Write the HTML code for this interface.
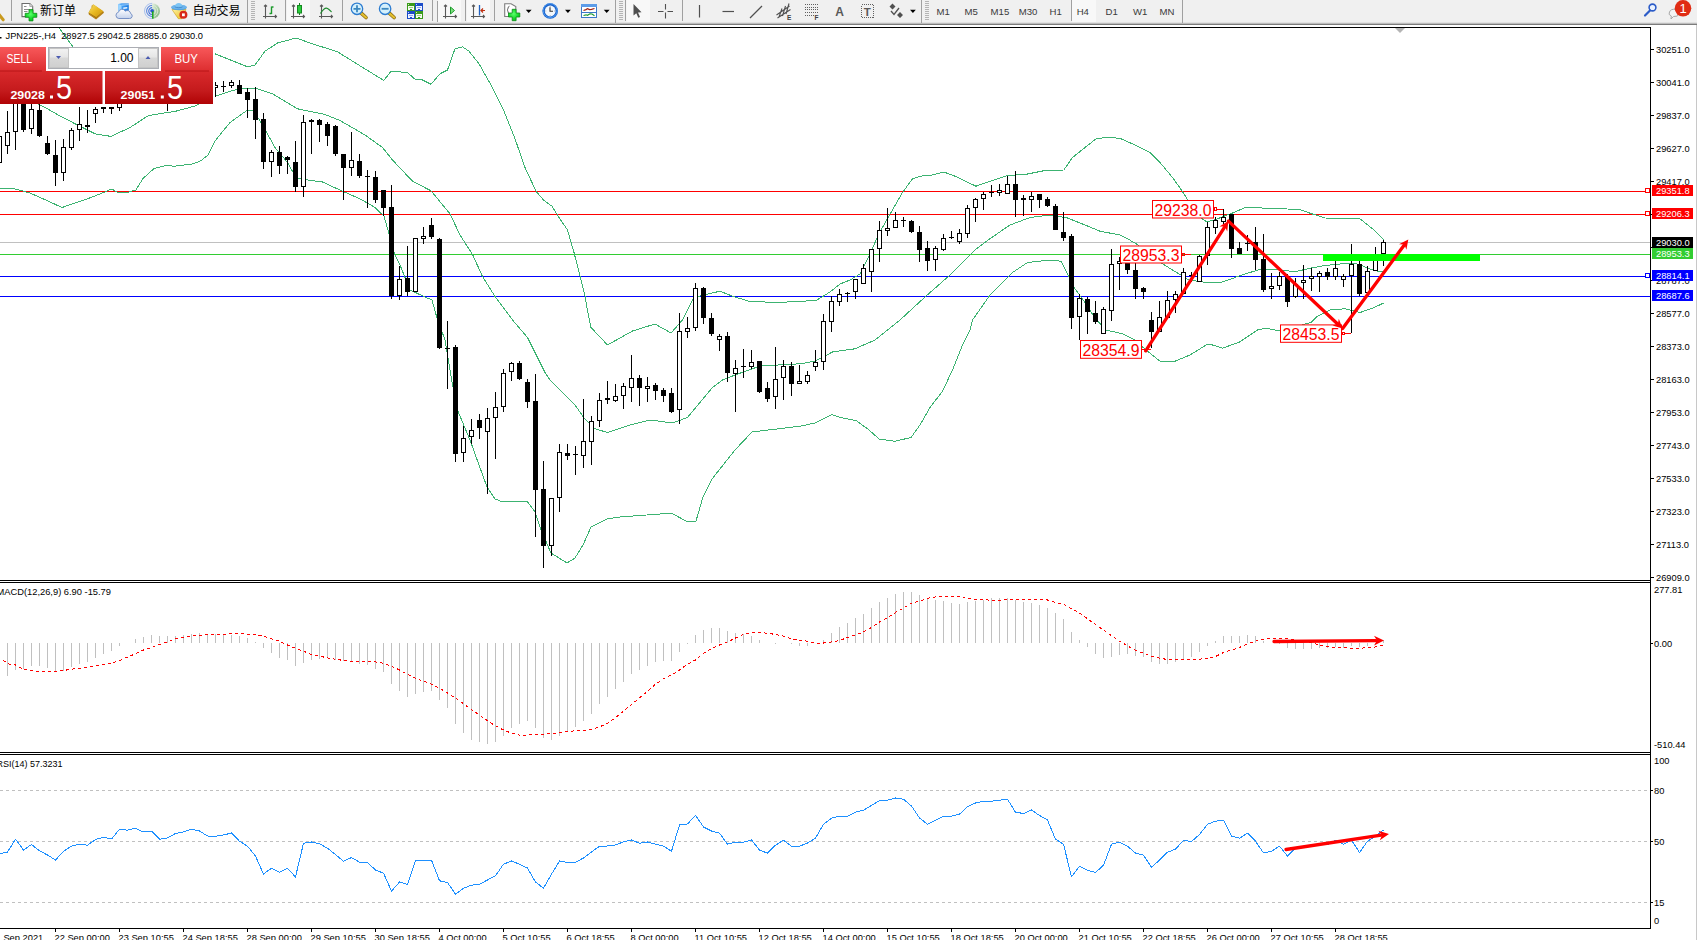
<!DOCTYPE html><html><head><meta charset="utf-8"><title>JPN225 H4</title><style>
html,body{margin:0;padding:0;background:#fff;}
body{width:1697px;height:940px;overflow:hidden;position:relative;font-family:"Liberation Sans", "Noto Sans CJK SC", sans-serif;}
svg{position:absolute;left:0;top:0;} text{font-family:"Liberation Sans", "Noto Sans CJK SC", sans-serif;}
</style></head><body>
<svg width="1697" height="940" viewBox="0 0 1697 940">
<defs>
<clipPath id="cm"><rect x="0" y="28" width="1650" height="552"/></clipPath>
<clipPath id="cd"><rect x="0" y="583" width="1650" height="169"/></clipPath>
<clipPath id="cr"><rect x="0" y="755" width="1650" height="173"/></clipPath>
<linearGradient id="gsell" x1="0" y1="0" x2="0" y2="1"><stop offset="0" stop-color="#f8585a"/><stop offset="1" stop-color="#dc2c2e"/></linearGradient>
<linearGradient id="gbig" x1="0" y1="0" x2="0" y2="1"><stop offset="0" stop-color="#d92a2c"/><stop offset="0.6" stop-color="#c41a1c"/><stop offset="1" stop-color="#b00305"/></linearGradient>
<linearGradient id="gbtn" x1="0" y1="0" x2="0" y2="1"><stop offset="0" stop-color="#f2f2f2"/><stop offset="0.45" stop-color="#e6e6e6"/><stop offset="0.5" stop-color="#d8d8d8"/><stop offset="1" stop-color="#cfcfcf"/></linearGradient>
</defs>
<rect x="0" y="0" width="1697" height="940" fill="#fff"/>
<g clip-path="url(#cm)">
<rect x="0" y="242" width="1650" height="1" fill="#c0c0c0" shape-rendering="crispEdges"/>
<rect x="0" y="191" width="1650" height="1" fill="#ff0000" shape-rendering="crispEdges"/>
<rect x="0" y="214" width="1650" height="1" fill="#ff0000" shape-rendering="crispEdges"/>
<rect x="0" y="254" width="1650" height="1" fill="#32cd32" shape-rendering="crispEdges"/>
<rect x="0" y="276" width="1650" height="1" fill="#0000ff" shape-rendering="crispEdges"/>
<rect x="0" y="296" width="1650" height="1" fill="#0000ff" shape-rendering="crispEdges"/>
<polyline points="49.5,15.0 58.8,27.5 71.0,44.2 80.0,56.5 120.0,60.0 170.0,56.0 213.0,53.0 215.0,53.8 247.5,66.8 255.0,65.0 265.0,51.2 277.5,43.0 296.0,38.0 312.5,43.8 337.5,51.8 360.0,65.8 383.8,80.5 391.0,71.2 407.5,72.5 415.0,79.2 422.5,80.0 431.0,84.2 440.0,73.8 447.5,70.0 455.0,48.8 462.5,46.8 469.0,51.2 479.0,63.8 491.0,85.0 504.0,111.2 515.0,138.8 525.0,167.5 536.0,191.2 544.0,200.5 552.0,206.2 559.0,217.5 567.5,230.0 574.0,252.5 580.0,276.0 585.0,296.0 587.0,308.0 591.0,327.5 607.5,345.0 632.5,331.0 655.0,324.0 671.0,333.0 682.5,320.0 693.8,297.5 706.0,294.5 720.0,291.2 732.5,296.2 748.8,301.2 775.0,302.5 800.0,301.5 817.0,300.0 830.0,292.0 840.0,284.0 850.0,280.0 860.0,274.0 868.0,258.0 877.0,238.0 881.0,230.0 892.5,210.0 902.5,192.5 912.5,178.8 920.0,176.2 932.5,175.0 943.8,172.0 955.0,176.2 976.0,186.2 990.0,181.2 1007.5,175.5 1025.0,174.5 1045.0,170.5 1063.8,170.0 1072.5,157.5 1085.0,147.5 1096.0,138.8 1110.0,137.0 1121.0,138.8 1135.0,145.0 1150.0,152.5 1160.0,162.5 1172.5,177.5 1181.4,190.0 1187.6,199.6 1195.0,210.0 1202.0,218.7 1206.3,221.6 1213.0,220.6 1227.4,214.9 1234.0,212.5 1245.6,207.2 1253.0,207.7 1262.0,208.0 1300.0,209.5 1310.0,213.2 1325.0,218.0 1360.0,218.8 1372.5,228.8 1383.8,239.5" fill="none" stroke="#3cb371" stroke-width="1" stroke-linejoin="round" shape-rendering="crispEdges"/>
<polyline points="0.0,85.0 30.0,100.0 42.4,106.0 60.0,116.0 77.5,125.0 95.0,133.8 111.0,136.4 130.0,127.5 148.5,115.5 175.4,111.3 195.0,106.0 215.0,96.2 232.5,90.5 245.0,88.0 257.5,88.8 272.5,93.8 297.5,108.8 325.0,114.5 340.0,120.5 365.0,135.0 382.5,147.5 392.5,160.0 412.5,181.2 431.0,190.8 450.0,213.8 460.0,235.0 472.5,254.5 482.5,276.5 495.0,296.5 512.5,320.0 527.5,337.5 545.0,372.5 550.0,380.0 575.0,405.0 583.8,417.5 595.0,428.8 607.5,432.5 630.0,425.0 650.0,420.0 672.5,423.0 687.5,417.5 700.0,402.5 712.5,387.5 722.5,380.0 735.0,375.0 760.0,366.0 800.0,363.8 815.0,361.2 832.5,352.0 855.0,348.8 875.0,340.0 887.5,330.0 900.0,320.0 925.0,297.0 950.0,275.0 975.0,250.0 988.8,239.5 1010.0,225.0 1030.0,217.5 1050.0,215.0 1067.5,218.0 1085.0,225.0 1100.0,231.2 1120.0,235.0 1128.8,239.5 1137.4,244.6 1150.0,254.0 1163.2,264.2 1179.5,274.3 1189.0,280.0 1200.0,281.5 1210.0,283.0 1220.0,282.5 1228.4,280.0 1243.7,274.3 1260.0,269.5 1272.0,269.0 1285.0,270.5 1295.0,271.8 1310.0,268.2 1325.0,265.5 1350.0,263.0 1358.5,264.3 1366.8,267.7 1375.1,270.9 1383.4,271.4" fill="none" stroke="#3cb371" stroke-width="1" stroke-linejoin="round" shape-rendering="crispEdges"/>
<polyline points="0.0,188.4 14.0,188.7 30.0,193.0 45.0,199.7 62.0,207.5 85.0,199.7 100.0,194.0 111.7,189.0 117.0,192.0 128.7,192.0 135.8,190.0 143.0,178.5 154.0,168.5 167.0,165.3 174.0,166.3 192.4,164.0 200.8,160.8 208.0,155.0 215.0,141.0 223.5,130.4 230.0,122.5 247.5,110.0 254.0,111.2 262.5,125.0 275.0,147.5 287.5,162.5 296.0,177.5 307.5,180.0 322.5,182.0 342.5,191.2 360.0,198.8 375.0,207.5 384.0,216.2 390.0,237.5 394.0,252.5 400.0,265.0 410.0,290.0 425.0,297.0 432.0,300.0 437.0,318.0 445.0,340.0 452.0,382.0 457.5,410.0 470.0,440.0 487.0,487.0 495.0,499.0 503.0,502.0 527.0,501.0 535.0,512.0 541.0,530.0 551.0,553.0 567.0,563.0 575.0,558.0 583.0,545.0 591.0,527.0 607.0,519.0 620.0,517.0 660.0,514.0 671.0,513.0 688.0,522.0 696.0,521.0 703.0,497.0 712.0,479.0 735.0,450.0 752.0,432.0 800.0,426.2 815.0,423.0 832.0,414.5 840.0,417.5 856.0,420.5 867.5,428.8 879.5,439.2 895.0,441.2 911.0,437.5 920.0,425.0 930.0,407.5 942.5,391.2 952.5,370.0 962.5,345.0 970.0,330.0 972.5,320.0 990.0,295.0 1012.5,272.5 1027.5,262.5 1050.0,260.0 1061.0,261.2 1068.8,276.2 1075.0,288.8 1085.0,302.5 1095.0,318.0 1106.0,330.0 1122.5,333.8 1135.0,340.0 1146.0,350.0 1160.0,361.2 1175.0,361.2 1190.0,355.0 1207.5,344.2 1210.0,344.2 1222.5,348.2 1240.0,341.8 1257.5,330.0 1265.0,328.2 1280.0,330.8 1311.0,322.5 1317.5,316.2 1330.0,310.0 1345.0,308.8 1360.0,312.5 1372.5,308.2 1383.8,303.0" fill="none" stroke="#3cb371" stroke-width="1" stroke-linejoin="round" shape-rendering="crispEdges"/>
<g shape-rendering="crispEdges">
<rect x="-1" y="130" width="1" height="35" fill="#000"/>
<rect x="-3" y="136" width="5" height="27" fill="#000"/>
<rect x="-2" y="137" width="3" height="25" fill="#fff"/>
<rect x="7" y="111" width="1" height="43" fill="#000"/>
<rect x="5" y="132" width="5" height="14" fill="#000"/>
<rect x="6" y="133" width="3" height="12" fill="#fff"/>
<rect x="15" y="98" width="1" height="52" fill="#000"/>
<rect x="13" y="100" width="5" height="32" fill="#000"/>
<rect x="14" y="101" width="3" height="30" fill="#fff"/>
<rect x="23" y="98" width="1" height="34" fill="#000"/>
<rect x="21" y="100" width="5" height="30" fill="#000"/>
<rect x="31" y="100" width="1" height="34" fill="#000"/>
<rect x="29" y="109" width="5" height="20" fill="#000"/>
<rect x="30" y="110" width="3" height="18" fill="#fff"/>
<rect x="39" y="100" width="1" height="37" fill="#000"/>
<rect x="37" y="110" width="5" height="26" fill="#000"/>
<rect x="47" y="136" width="1" height="19" fill="#000"/>
<rect x="45" y="143" width="5" height="11" fill="#000"/>
<rect x="55" y="140" width="1" height="46" fill="#000"/>
<rect x="53" y="155" width="5" height="18" fill="#000"/>
<rect x="63" y="139" width="1" height="42" fill="#000"/>
<rect x="61" y="147" width="5" height="26" fill="#000"/>
<rect x="62" y="148" width="3" height="24" fill="#fff"/>
<rect x="71" y="128" width="1" height="22" fill="#000"/>
<rect x="69" y="130" width="5" height="18" fill="#000"/>
<rect x="70" y="131" width="3" height="16" fill="#fff"/>
<rect x="79" y="107" width="1" height="34" fill="#000"/>
<rect x="77" y="124" width="5" height="6" fill="#000"/>
<rect x="78" y="125" width="3" height="4" fill="#fff"/>
<rect x="87" y="110" width="1" height="23" fill="#000"/>
<rect x="85" y="125" width="5" height="2" fill="#000"/>
<rect x="95" y="107" width="1" height="16" fill="#000"/>
<rect x="93" y="109" width="5" height="5" fill="#000"/>
<rect x="94" y="110" width="3" height="3" fill="#fff"/>
<rect x="103" y="107" width="1" height="6" fill="#000"/>
<rect x="101" y="107" width="5" height="2" fill="#000"/>
<rect x="111" y="107" width="1" height="7" fill="#000"/>
<rect x="109" y="107" width="5" height="2" fill="#000"/>
<rect x="119" y="98" width="1" height="13" fill="#000"/>
<rect x="117" y="103" width="5" height="5" fill="#000"/>
<rect x="118" y="104" width="3" height="3" fill="#fff"/>
<rect x="167" y="90" width="1" height="21" fill="#000"/>
<rect x="165" y="95" width="5" height="5" fill="#000"/>
<rect x="166" y="96" width="3" height="3" fill="#fff"/>
<rect x="215" y="82" width="1" height="15" fill="#000"/>
<rect x="213" y="85" width="5" height="3" fill="#000"/>
<rect x="214" y="86" width="3" height="1" fill="#fff"/>
<rect x="223" y="81" width="1" height="11" fill="#000"/>
<rect x="221" y="86" width="5" height="1" fill="#000"/>
<rect x="231" y="80" width="1" height="8" fill="#000"/>
<rect x="229" y="82" width="5" height="4" fill="#000"/>
<rect x="230" y="83" width="3" height="2" fill="#fff"/>
<rect x="239" y="80" width="1" height="14" fill="#000"/>
<rect x="237" y="85" width="5" height="9" fill="#000"/>
<rect x="247" y="88" width="1" height="30" fill="#000"/>
<rect x="245" y="92" width="5" height="8" fill="#000"/>
<rect x="255" y="87" width="1" height="52" fill="#000"/>
<rect x="253" y="99" width="5" height="21" fill="#000"/>
<rect x="263" y="113" width="1" height="56" fill="#000"/>
<rect x="261" y="119" width="5" height="43" fill="#000"/>
<rect x="271" y="150" width="1" height="27" fill="#000"/>
<rect x="269" y="152" width="5" height="10" fill="#000"/>
<rect x="270" y="153" width="3" height="8" fill="#fff"/>
<rect x="279" y="146" width="1" height="28" fill="#000"/>
<rect x="277" y="152" width="5" height="14" fill="#000"/>
<rect x="287" y="156" width="1" height="18" fill="#000"/>
<rect x="285" y="157" width="5" height="3" fill="#000"/>
<rect x="295" y="141" width="1" height="51" fill="#000"/>
<rect x="293" y="162" width="5" height="25" fill="#000"/>
<rect x="303" y="115" width="1" height="82" fill="#000"/>
<rect x="301" y="122" width="5" height="65" fill="#000"/>
<rect x="302" y="123" width="3" height="63" fill="#fff"/>
<rect x="311" y="119" width="1" height="35" fill="#000"/>
<rect x="309" y="120" width="5" height="2" fill="#000"/>
<rect x="319" y="119" width="1" height="23" fill="#000"/>
<rect x="317" y="120" width="5" height="5" fill="#000"/>
<rect x="327" y="122" width="1" height="24" fill="#000"/>
<rect x="325" y="124" width="5" height="12" fill="#000"/>
<rect x="335" y="125" width="1" height="31" fill="#000"/>
<rect x="333" y="126" width="5" height="28" fill="#000"/>
<rect x="343" y="154" width="1" height="46" fill="#000"/>
<rect x="341" y="154" width="5" height="14" fill="#000"/>
<rect x="351" y="132" width="1" height="44" fill="#000"/>
<rect x="349" y="160" width="5" height="8" fill="#000"/>
<rect x="350" y="161" width="3" height="6" fill="#fff"/>
<rect x="359" y="154" width="1" height="24" fill="#000"/>
<rect x="357" y="161" width="5" height="15" fill="#000"/>
<rect x="367" y="170" width="1" height="38" fill="#000"/>
<rect x="365" y="176" width="5" height="1" fill="#000"/>
<rect x="375" y="171" width="1" height="32" fill="#000"/>
<rect x="373" y="177" width="5" height="23" fill="#000"/>
<rect x="383" y="190" width="1" height="26" fill="#000"/>
<rect x="381" y="190" width="5" height="18" fill="#000"/>
<rect x="391" y="185" width="1" height="114" fill="#000"/>
<rect x="389" y="207" width="5" height="89" fill="#000"/>
<rect x="399" y="266" width="1" height="34" fill="#000"/>
<rect x="397" y="279" width="5" height="17" fill="#000"/>
<rect x="398" y="280" width="3" height="15" fill="#fff"/>
<rect x="407" y="246" width="1" height="50" fill="#000"/>
<rect x="405" y="278" width="5" height="14" fill="#000"/>
<rect x="415" y="238" width="1" height="54" fill="#000"/>
<rect x="413" y="238" width="5" height="54" fill="#000"/>
<rect x="414" y="239" width="3" height="52" fill="#fff"/>
<rect x="423" y="227" width="1" height="17" fill="#000"/>
<rect x="421" y="236" width="5" height="3" fill="#000"/>
<rect x="422" y="237" width="3" height="1" fill="#fff"/>
<rect x="431" y="218" width="1" height="21" fill="#000"/>
<rect x="429" y="225" width="5" height="12" fill="#000"/>
<rect x="439" y="238" width="1" height="111" fill="#000"/>
<rect x="437" y="239" width="5" height="109" fill="#000"/>
<rect x="447" y="321" width="1" height="68" fill="#000"/>
<rect x="445" y="348" width="5" height="1" fill="#000"/>
<rect x="455" y="345" width="1" height="117" fill="#000"/>
<rect x="453" y="347" width="5" height="107" fill="#000"/>
<rect x="463" y="426" width="1" height="36" fill="#000"/>
<rect x="461" y="438" width="5" height="15" fill="#000"/>
<rect x="462" y="439" width="3" height="13" fill="#fff"/>
<rect x="471" y="419" width="1" height="25" fill="#000"/>
<rect x="469" y="430" width="5" height="7" fill="#000"/>
<rect x="470" y="431" width="3" height="5" fill="#fff"/>
<rect x="479" y="414" width="1" height="25" fill="#000"/>
<rect x="477" y="420" width="5" height="8" fill="#000"/>
<rect x="487" y="408" width="1" height="86" fill="#000"/>
<rect x="485" y="418" width="5" height="14" fill="#000"/>
<rect x="486" y="419" width="3" height="12" fill="#fff"/>
<rect x="495" y="392" width="1" height="67" fill="#000"/>
<rect x="493" y="407" width="5" height="11" fill="#000"/>
<rect x="494" y="408" width="3" height="9" fill="#fff"/>
<rect x="503" y="369" width="1" height="43" fill="#000"/>
<rect x="501" y="373" width="5" height="34" fill="#000"/>
<rect x="502" y="374" width="3" height="32" fill="#fff"/>
<rect x="511" y="362" width="1" height="19" fill="#000"/>
<rect x="509" y="363" width="5" height="9" fill="#000"/>
<rect x="510" y="364" width="3" height="7" fill="#fff"/>
<rect x="519" y="361" width="1" height="19" fill="#000"/>
<rect x="517" y="363" width="5" height="16" fill="#000"/>
<rect x="527" y="379" width="1" height="29" fill="#000"/>
<rect x="525" y="382" width="5" height="20" fill="#000"/>
<rect x="535" y="374" width="1" height="163" fill="#000"/>
<rect x="533" y="401" width="5" height="89" fill="#000"/>
<rect x="543" y="461" width="1" height="107" fill="#000"/>
<rect x="541" y="489" width="5" height="57" fill="#000"/>
<rect x="551" y="498" width="1" height="58" fill="#000"/>
<rect x="549" y="498" width="5" height="48" fill="#000"/>
<rect x="550" y="499" width="3" height="46" fill="#fff"/>
<rect x="559" y="444" width="1" height="68" fill="#000"/>
<rect x="557" y="452" width="5" height="46" fill="#000"/>
<rect x="558" y="453" width="3" height="44" fill="#fff"/>
<rect x="567" y="444" width="1" height="16" fill="#000"/>
<rect x="565" y="453" width="5" height="3" fill="#000"/>
<rect x="575" y="446" width="1" height="29" fill="#000"/>
<rect x="573" y="454" width="5" height="1" fill="#000"/>
<rect x="583" y="399" width="1" height="69" fill="#000"/>
<rect x="581" y="441" width="5" height="15" fill="#000"/>
<rect x="582" y="442" width="3" height="13" fill="#fff"/>
<rect x="591" y="416" width="1" height="49" fill="#000"/>
<rect x="589" y="421" width="5" height="21" fill="#000"/>
<rect x="590" y="422" width="3" height="19" fill="#fff"/>
<rect x="599" y="393" width="1" height="34" fill="#000"/>
<rect x="597" y="400" width="5" height="21" fill="#000"/>
<rect x="598" y="401" width="3" height="19" fill="#fff"/>
<rect x="607" y="381" width="1" height="23" fill="#000"/>
<rect x="605" y="398" width="5" height="2" fill="#000"/>
<rect x="615" y="384" width="1" height="18" fill="#000"/>
<rect x="613" y="396" width="5" height="5" fill="#000"/>
<rect x="614" y="397" width="3" height="3" fill="#fff"/>
<rect x="623" y="383" width="1" height="26" fill="#000"/>
<rect x="621" y="386" width="5" height="10" fill="#000"/>
<rect x="622" y="387" width="3" height="8" fill="#fff"/>
<rect x="631" y="355" width="1" height="47" fill="#000"/>
<rect x="629" y="378" width="5" height="10" fill="#000"/>
<rect x="630" y="379" width="3" height="8" fill="#fff"/>
<rect x="639" y="375" width="1" height="31" fill="#000"/>
<rect x="637" y="378" width="5" height="10" fill="#000"/>
<rect x="647" y="377" width="1" height="25" fill="#000"/>
<rect x="645" y="386" width="5" height="3" fill="#000"/>
<rect x="646" y="387" width="3" height="1" fill="#fff"/>
<rect x="655" y="383" width="1" height="17" fill="#000"/>
<rect x="653" y="385" width="5" height="6" fill="#000"/>
<rect x="663" y="388" width="1" height="14" fill="#000"/>
<rect x="661" y="390" width="5" height="6" fill="#000"/>
<rect x="671" y="388" width="1" height="25" fill="#000"/>
<rect x="669" y="393" width="5" height="19" fill="#000"/>
<rect x="679" y="313" width="1" height="111" fill="#000"/>
<rect x="677" y="331" width="5" height="79" fill="#000"/>
<rect x="678" y="332" width="3" height="77" fill="#fff"/>
<rect x="687" y="317" width="1" height="21" fill="#000"/>
<rect x="685" y="328" width="5" height="4" fill="#000"/>
<rect x="686" y="329" width="3" height="2" fill="#fff"/>
<rect x="695" y="283" width="1" height="48" fill="#000"/>
<rect x="693" y="288" width="5" height="40" fill="#000"/>
<rect x="694" y="289" width="3" height="38" fill="#fff"/>
<rect x="703" y="287" width="1" height="37" fill="#000"/>
<rect x="701" y="288" width="5" height="30" fill="#000"/>
<rect x="711" y="313" width="1" height="23" fill="#000"/>
<rect x="709" y="318" width="5" height="16" fill="#000"/>
<rect x="719" y="334" width="1" height="17" fill="#000"/>
<rect x="717" y="336" width="5" height="4" fill="#000"/>
<rect x="718" y="337" width="3" height="2" fill="#fff"/>
<rect x="727" y="332" width="1" height="50" fill="#000"/>
<rect x="725" y="336" width="5" height="37" fill="#000"/>
<rect x="735" y="360" width="1" height="52" fill="#000"/>
<rect x="733" y="368" width="5" height="6" fill="#000"/>
<rect x="734" y="369" width="3" height="4" fill="#fff"/>
<rect x="743" y="349" width="1" height="29" fill="#000"/>
<rect x="741" y="366" width="5" height="1" fill="#000"/>
<rect x="751" y="350" width="1" height="19" fill="#000"/>
<rect x="749" y="362" width="5" height="5" fill="#000"/>
<rect x="750" y="363" width="3" height="3" fill="#fff"/>
<rect x="759" y="361" width="1" height="32" fill="#000"/>
<rect x="757" y="361" width="5" height="31" fill="#000"/>
<rect x="767" y="382" width="1" height="20" fill="#000"/>
<rect x="765" y="388" width="5" height="11" fill="#000"/>
<rect x="775" y="347" width="1" height="62" fill="#000"/>
<rect x="773" y="379" width="5" height="18" fill="#000"/>
<rect x="774" y="380" width="3" height="16" fill="#fff"/>
<rect x="783" y="360" width="1" height="40" fill="#000"/>
<rect x="781" y="366" width="5" height="12" fill="#000"/>
<rect x="782" y="367" width="3" height="10" fill="#fff"/>
<rect x="791" y="362" width="1" height="34" fill="#000"/>
<rect x="789" y="366" width="5" height="18" fill="#000"/>
<rect x="799" y="365" width="1" height="19" fill="#000"/>
<rect x="797" y="381" width="5" height="3" fill="#000"/>
<rect x="798" y="382" width="3" height="1" fill="#fff"/>
<rect x="807" y="371" width="1" height="13" fill="#000"/>
<rect x="805" y="375" width="5" height="7" fill="#000"/>
<rect x="806" y="376" width="3" height="5" fill="#fff"/>
<rect x="815" y="350" width="1" height="21" fill="#000"/>
<rect x="813" y="362" width="5" height="5" fill="#000"/>
<rect x="814" y="363" width="3" height="3" fill="#fff"/>
<rect x="823" y="314" width="1" height="56" fill="#000"/>
<rect x="821" y="321" width="5" height="41" fill="#000"/>
<rect x="822" y="322" width="3" height="39" fill="#fff"/>
<rect x="831" y="296" width="1" height="36" fill="#000"/>
<rect x="829" y="301" width="5" height="21" fill="#000"/>
<rect x="830" y="302" width="3" height="19" fill="#fff"/>
<rect x="839" y="289" width="1" height="17" fill="#000"/>
<rect x="837" y="294" width="5" height="8" fill="#000"/>
<rect x="838" y="295" width="3" height="6" fill="#fff"/>
<rect x="847" y="292" width="1" height="10" fill="#000"/>
<rect x="845" y="293" width="5" height="1" fill="#000"/>
<rect x="855" y="279" width="1" height="20" fill="#000"/>
<rect x="853" y="279" width="5" height="13" fill="#000"/>
<rect x="854" y="280" width="3" height="11" fill="#fff"/>
<rect x="863" y="264" width="1" height="20" fill="#000"/>
<rect x="861" y="268" width="5" height="16" fill="#000"/>
<rect x="862" y="269" width="3" height="14" fill="#fff"/>
<rect x="871" y="249" width="1" height="43" fill="#000"/>
<rect x="869" y="249" width="5" height="23" fill="#000"/>
<rect x="870" y="250" width="3" height="21" fill="#fff"/>
<rect x="879" y="221" width="1" height="41" fill="#000"/>
<rect x="877" y="230" width="5" height="19" fill="#000"/>
<rect x="878" y="231" width="3" height="17" fill="#fff"/>
<rect x="887" y="208" width="1" height="28" fill="#000"/>
<rect x="885" y="228" width="5" height="3" fill="#000"/>
<rect x="886" y="229" width="3" height="1" fill="#fff"/>
<rect x="895" y="212" width="1" height="16" fill="#000"/>
<rect x="893" y="220" width="5" height="8" fill="#000"/>
<rect x="894" y="221" width="3" height="6" fill="#fff"/>
<rect x="903" y="217" width="1" height="10" fill="#000"/>
<rect x="901" y="220" width="5" height="1" fill="#000"/>
<rect x="911" y="220" width="1" height="13" fill="#000"/>
<rect x="909" y="221" width="5" height="11" fill="#000"/>
<rect x="919" y="226" width="1" height="36" fill="#000"/>
<rect x="917" y="232" width="5" height="18" fill="#000"/>
<rect x="927" y="241" width="1" height="30" fill="#000"/>
<rect x="925" y="248" width="5" height="13" fill="#000"/>
<rect x="935" y="246" width="1" height="25" fill="#000"/>
<rect x="933" y="248" width="5" height="12" fill="#000"/>
<rect x="934" y="249" width="3" height="10" fill="#fff"/>
<rect x="943" y="234" width="1" height="17" fill="#000"/>
<rect x="941" y="238" width="5" height="12" fill="#000"/>
<rect x="942" y="239" width="3" height="10" fill="#fff"/>
<rect x="951" y="231" width="1" height="8" fill="#000"/>
<rect x="949" y="237" width="5" height="1" fill="#000"/>
<rect x="959" y="229" width="1" height="15" fill="#000"/>
<rect x="957" y="233" width="5" height="9" fill="#000"/>
<rect x="958" y="234" width="3" height="7" fill="#fff"/>
<rect x="967" y="205" width="1" height="33" fill="#000"/>
<rect x="965" y="208" width="5" height="26" fill="#000"/>
<rect x="966" y="209" width="3" height="24" fill="#fff"/>
<rect x="975" y="198" width="1" height="24" fill="#000"/>
<rect x="973" y="199" width="5" height="9" fill="#000"/>
<rect x="974" y="200" width="3" height="7" fill="#fff"/>
<rect x="983" y="192" width="1" height="18" fill="#000"/>
<rect x="981" y="194" width="5" height="5" fill="#000"/>
<rect x="982" y="195" width="3" height="3" fill="#fff"/>
<rect x="991" y="185" width="1" height="12" fill="#000"/>
<rect x="989" y="192" width="5" height="1" fill="#000"/>
<rect x="999" y="184" width="1" height="12" fill="#000"/>
<rect x="997" y="190" width="5" height="3" fill="#000"/>
<rect x="998" y="191" width="3" height="1" fill="#fff"/>
<rect x="1007" y="176" width="1" height="18" fill="#000"/>
<rect x="1005" y="184" width="5" height="10" fill="#000"/>
<rect x="1006" y="185" width="3" height="8" fill="#fff"/>
<rect x="1015" y="171" width="1" height="46" fill="#000"/>
<rect x="1013" y="184" width="5" height="16" fill="#000"/>
<rect x="1023" y="195" width="1" height="21" fill="#000"/>
<rect x="1021" y="198" width="5" height="2" fill="#000"/>
<rect x="1031" y="192" width="1" height="20" fill="#000"/>
<rect x="1029" y="196" width="5" height="4" fill="#000"/>
<rect x="1030" y="197" width="3" height="2" fill="#fff"/>
<rect x="1039" y="194" width="1" height="14" fill="#000"/>
<rect x="1037" y="194" width="5" height="6" fill="#000"/>
<rect x="1047" y="197" width="1" height="10" fill="#000"/>
<rect x="1045" y="199" width="5" height="7" fill="#000"/>
<rect x="1055" y="204" width="1" height="26" fill="#000"/>
<rect x="1053" y="206" width="5" height="24" fill="#000"/>
<rect x="1063" y="212" width="1" height="29" fill="#000"/>
<rect x="1061" y="232" width="5" height="6" fill="#000"/>
<rect x="1071" y="234" width="1" height="95" fill="#000"/>
<rect x="1069" y="236" width="5" height="82" fill="#000"/>
<rect x="1079" y="294" width="1" height="46" fill="#000"/>
<rect x="1077" y="298" width="5" height="19" fill="#000"/>
<rect x="1078" y="299" width="3" height="17" fill="#fff"/>
<rect x="1087" y="297" width="1" height="37" fill="#000"/>
<rect x="1085" y="299" width="5" height="13" fill="#000"/>
<rect x="1095" y="301" width="1" height="23" fill="#000"/>
<rect x="1093" y="313" width="5" height="9" fill="#000"/>
<rect x="1103" y="307" width="1" height="27" fill="#000"/>
<rect x="1101" y="309" width="5" height="25" fill="#000"/>
<rect x="1102" y="310" width="3" height="23" fill="#fff"/>
<rect x="1111" y="249" width="1" height="72" fill="#000"/>
<rect x="1109" y="264" width="5" height="47" fill="#000"/>
<rect x="1110" y="265" width="3" height="45" fill="#fff"/>
<rect x="1119" y="257" width="1" height="33" fill="#000"/>
<rect x="1117" y="261" width="5" height="3" fill="#000"/>
<rect x="1118" y="262" width="3" height="1" fill="#fff"/>
<rect x="1127" y="261" width="1" height="13" fill="#000"/>
<rect x="1125" y="261" width="5" height="9" fill="#000"/>
<rect x="1135" y="262" width="1" height="37" fill="#000"/>
<rect x="1133" y="270" width="5" height="19" fill="#000"/>
<rect x="1143" y="287" width="1" height="12" fill="#000"/>
<rect x="1141" y="288" width="5" height="4" fill="#000"/>
<rect x="1151" y="312" width="1" height="36" fill="#000"/>
<rect x="1149" y="320" width="5" height="12" fill="#000"/>
<rect x="1159" y="301" width="1" height="31" fill="#000"/>
<rect x="1157" y="317" width="5" height="15" fill="#000"/>
<rect x="1158" y="318" width="3" height="13" fill="#fff"/>
<rect x="1167" y="291" width="1" height="27" fill="#000"/>
<rect x="1165" y="300" width="5" height="18" fill="#000"/>
<rect x="1166" y="301" width="3" height="16" fill="#fff"/>
<rect x="1175" y="291" width="1" height="22" fill="#000"/>
<rect x="1173" y="294" width="5" height="6" fill="#000"/>
<rect x="1174" y="295" width="3" height="4" fill="#fff"/>
<rect x="1183" y="268" width="1" height="26" fill="#000"/>
<rect x="1181" y="272" width="5" height="22" fill="#000"/>
<rect x="1182" y="273" width="3" height="20" fill="#fff"/>
<rect x="1191" y="272" width="1" height="10" fill="#000"/>
<rect x="1189" y="275" width="5" height="1" fill="#000"/>
<rect x="1199" y="255" width="1" height="27" fill="#000"/>
<rect x="1197" y="256" width="5" height="26" fill="#000"/>
<rect x="1198" y="257" width="3" height="24" fill="#fff"/>
<rect x="1207" y="222" width="1" height="43" fill="#000"/>
<rect x="1205" y="227" width="5" height="29" fill="#000"/>
<rect x="1206" y="228" width="3" height="27" fill="#fff"/>
<rect x="1215" y="217" width="1" height="17" fill="#000"/>
<rect x="1213" y="220" width="5" height="8" fill="#000"/>
<rect x="1214" y="221" width="3" height="6" fill="#fff"/>
<rect x="1223" y="209" width="1" height="15" fill="#000"/>
<rect x="1221" y="217" width="5" height="5" fill="#000"/>
<rect x="1222" y="218" width="3" height="3" fill="#fff"/>
<rect x="1231" y="214" width="1" height="44" fill="#000"/>
<rect x="1229" y="214" width="5" height="35" fill="#000"/>
<rect x="1239" y="242" width="1" height="12" fill="#000"/>
<rect x="1237" y="248" width="5" height="6" fill="#000"/>
<rect x="1247" y="235" width="1" height="16" fill="#000"/>
<rect x="1245" y="243" width="5" height="1" fill="#000"/>
<rect x="1255" y="227" width="1" height="43" fill="#000"/>
<rect x="1253" y="242" width="5" height="18" fill="#000"/>
<rect x="1263" y="234" width="1" height="58" fill="#000"/>
<rect x="1261" y="259" width="5" height="31" fill="#000"/>
<rect x="1271" y="273" width="1" height="26" fill="#000"/>
<rect x="1269" y="286" width="5" height="3" fill="#000"/>
<rect x="1270" y="287" width="3" height="1" fill="#fff"/>
<rect x="1279" y="272" width="1" height="18" fill="#000"/>
<rect x="1277" y="276" width="5" height="10" fill="#000"/>
<rect x="1278" y="277" width="3" height="8" fill="#fff"/>
<rect x="1287" y="274" width="1" height="33" fill="#000"/>
<rect x="1285" y="276" width="5" height="26" fill="#000"/>
<rect x="1295" y="278" width="1" height="20" fill="#000"/>
<rect x="1293" y="284" width="5" height="13" fill="#000"/>
<rect x="1294" y="285" width="3" height="11" fill="#fff"/>
<rect x="1303" y="265" width="1" height="34" fill="#000"/>
<rect x="1301" y="280" width="5" height="3" fill="#000"/>
<rect x="1302" y="281" width="3" height="1" fill="#fff"/>
<rect x="1311" y="268" width="1" height="23" fill="#000"/>
<rect x="1309" y="276" width="5" height="3" fill="#000"/>
<rect x="1310" y="277" width="3" height="1" fill="#fff"/>
<rect x="1319" y="271" width="1" height="21" fill="#000"/>
<rect x="1317" y="273" width="5" height="4" fill="#000"/>
<rect x="1318" y="274" width="3" height="2" fill="#fff"/>
<rect x="1327" y="268" width="1" height="12" fill="#000"/>
<rect x="1325" y="272" width="5" height="5" fill="#000"/>
<rect x="1335" y="261" width="1" height="19" fill="#000"/>
<rect x="1333" y="268" width="5" height="9" fill="#000"/>
<rect x="1334" y="269" width="3" height="7" fill="#fff"/>
<rect x="1343" y="274" width="1" height="13" fill="#000"/>
<rect x="1341" y="276" width="5" height="4" fill="#000"/>
<rect x="1342" y="277" width="3" height="2" fill="#fff"/>
<rect x="1351" y="244" width="1" height="89" fill="#000"/>
<rect x="1349" y="264" width="5" height="12" fill="#000"/>
<rect x="1350" y="265" width="3" height="10" fill="#fff"/>
<rect x="1359" y="261" width="1" height="35" fill="#000"/>
<rect x="1357" y="264" width="5" height="30" fill="#000"/>
<rect x="1367" y="266" width="1" height="29" fill="#000"/>
<rect x="1365" y="271" width="5" height="22" fill="#000"/>
<rect x="1366" y="272" width="3" height="20" fill="#fff"/>
<rect x="1375" y="247" width="1" height="24" fill="#000"/>
<rect x="1373" y="255" width="5" height="16" fill="#000"/>
<rect x="1374" y="256" width="3" height="14" fill="#fff"/>
<rect x="1383" y="240" width="1" height="26" fill="#000"/>
<rect x="1381" y="242" width="5" height="12" fill="#000"/>
<rect x="1382" y="243" width="3" height="10" fill="#fff"/>
</g>
<rect x="1323" y="254" width="157" height="7" fill="#00ff00" shape-rendering="crispEdges"/>
</g>
<rect x="1152.5" y="200.5" width="61" height="17.5" fill="#fff" stroke="#ff0000" stroke-width="1"/>
<text x="1183.0" y="215.7" font-size="16" fill="#ff0000" text-anchor="middle" textLength="57" lengthAdjust="spacingAndGlyphs">29238.0</text>
<rect x="1120.5" y="246.0" width="61" height="17" fill="#fff" stroke="#ff0000" stroke-width="1"/>
<text x="1151.0" y="260.7" font-size="16" fill="#ff0000" text-anchor="middle" textLength="57" lengthAdjust="spacingAndGlyphs">28953.3</text>
<rect x="1080.5" y="340.5" width="61" height="17.8" fill="#fff" stroke="#ff0000" stroke-width="1"/>
<text x="1111.0" y="356.0" font-size="16" fill="#ff0000" text-anchor="middle" textLength="57" lengthAdjust="spacingAndGlyphs">28354.9</text>
<rect x="1280.5" y="324.9" width="61" height="17.4" fill="#fff" stroke="#ff0000" stroke-width="1"/>
<text x="1311.0" y="339.99999999999994" font-size="16" fill="#ff0000" text-anchor="middle" textLength="57" lengthAdjust="spacingAndGlyphs">28453.5</text>
<g fill="none" stroke="#ff0000" stroke-width="1" shape-rendering="crispEdges">
<rect x="1214.5" y="207.5" width="2" height="3"/><path d="M1217 209.5H1223"/>
<rect x="1182.500" y="253.5" width="2" height="2"/><path d="M1185 254.5H1191"/>
<path d="M1142 349.5H1151"/>
<rect x="1342.5" y="332.5" width="2" height="2"/><path d="M1345 333.5H1351"/>
</g>
<line x1="1145.7" y1="350.8" x2="1224.4" y2="227.4" stroke="#ff0000" stroke-width="3.3" stroke-linecap="round"/>
<polygon points="1228.4,221.1 1227.2,231.6 1224.9,226.6 1219.4,226.6" fill="#ff0000"/>
<line x1="1228.4" y1="221.1" x2="1337.1" y2="323.5" stroke="#ff0000" stroke-width="3.3" stroke-linecap="round"/>
<polygon points="1342.6,328.6 1332.5,325.4 1337.9,324.1 1338.8,318.7" fill="#ff0000"/>
<line x1="1342.6" y1="328.6" x2="1403.9" y2="245.4" stroke="#ff0000" stroke-width="3.3" stroke-linecap="round"/>
<polygon points="1408.3,239.4 1406.4,249.8 1404.4,244.6 1399.0,244.3" fill="#ff0000"/>
<g shape-rendering="crispEdges" fill="#000">
<rect x="0" y="27" width="1651" height="1"/>
<rect x="1650" y="27" width="1" height="902"/>
<rect x="0" y="580" width="1651" height="1"/><rect x="0" y="582" width="1651" height="1"/>
<rect x="0" y="752" width="1651" height="1"/><rect x="0" y="754" width="1651" height="1"/>
<rect x="0" y="928" width="1651" height="1"/>
</g>
<g clip-path="url(#cd)">
<g shape-rendering="crispEdges" fill="#c0c0c0">
<rect x="7" y="643" width="1" height="33"/>
<rect x="15" y="643" width="1" height="27"/>
<rect x="23" y="643" width="1" height="26"/>
<rect x="31" y="643" width="1" height="23"/>
<rect x="39" y="643" width="1" height="23"/>
<rect x="47" y="643" width="1" height="25"/>
<rect x="55" y="643" width="1" height="28"/>
<rect x="63" y="643" width="1" height="28"/>
<rect x="71" y="643" width="1" height="24"/>
<rect x="79" y="643" width="1" height="21"/>
<rect x="87" y="643" width="1" height="19"/>
<rect x="95" y="643" width="1" height="15"/>
<rect x="103" y="643" width="1" height="11"/>
<rect x="111" y="643" width="1" height="8"/>
<rect x="119" y="643" width="1" height="3"/>
<rect x="135" y="639" width="1" height="4"/>
<rect x="143" y="637" width="1" height="6"/>
<rect x="151" y="635" width="1" height="8"/>
<rect x="159" y="636" width="1" height="7"/>
<rect x="167" y="636" width="1" height="7"/>
<rect x="175" y="636" width="1" height="7"/>
<rect x="183" y="635" width="1" height="8"/>
<rect x="191" y="634" width="1" height="9"/>
<rect x="199" y="633" width="1" height="10"/>
<rect x="207" y="634" width="1" height="9"/>
<rect x="215" y="634" width="1" height="9"/>
<rect x="223" y="634" width="1" height="9"/>
<rect x="231" y="635" width="1" height="8"/>
<rect x="239" y="636" width="1" height="7"/>
<rect x="247" y="638" width="1" height="5"/>
<rect x="255" y="642" width="1" height="1"/>
<rect x="263" y="643" width="1" height="5"/>
<rect x="271" y="643" width="1" height="10"/>
<rect x="279" y="643" width="1" height="15"/>
<rect x="287" y="643" width="1" height="17"/>
<rect x="295" y="643" width="1" height="23"/>
<rect x="303" y="643" width="1" height="20"/>
<rect x="311" y="643" width="1" height="17"/>
<rect x="319" y="643" width="1" height="16"/>
<rect x="327" y="643" width="1" height="15"/>
<rect x="335" y="643" width="1" height="17"/>
<rect x="343" y="643" width="1" height="18"/>
<rect x="351" y="643" width="1" height="19"/>
<rect x="359" y="643" width="1" height="21"/>
<rect x="367" y="643" width="1" height="22"/>
<rect x="375" y="643" width="1" height="26"/>
<rect x="383" y="643" width="1" height="29"/>
<rect x="391" y="643" width="1" height="41"/>
<rect x="399" y="643" width="1" height="48"/>
<rect x="407" y="643" width="1" height="54"/>
<rect x="415" y="643" width="1" height="51"/>
<rect x="423" y="643" width="1" height="49"/>
<rect x="431" y="643" width="1" height="48"/>
<rect x="439" y="643" width="1" height="57"/>
<rect x="447" y="643" width="1" height="65"/>
<rect x="455" y="643" width="1" height="81"/>
<rect x="463" y="643" width="1" height="90"/>
<rect x="471" y="643" width="1" height="97"/>
<rect x="479" y="643" width="1" height="99"/>
<rect x="487" y="643" width="1" height="101"/>
<rect x="495" y="643" width="1" height="99"/>
<rect x="503" y="643" width="1" height="93"/>
<rect x="511" y="643" width="1" height="85"/>
<rect x="519" y="643" width="1" height="81"/>
<rect x="527" y="643" width="1" height="78"/>
<rect x="535" y="643" width="1" height="85"/>
<rect x="543" y="643" width="1" height="95"/>
<rect x="551" y="643" width="1" height="97"/>
<rect x="559" y="643" width="1" height="93"/>
<rect x="567" y="643" width="1" height="88"/>
<rect x="575" y="643" width="1" height="84"/>
<rect x="583" y="643" width="1" height="78"/>
<rect x="591" y="643" width="1" height="71"/>
<rect x="599" y="643" width="1" height="61"/>
<rect x="607" y="643" width="1" height="54"/>
<rect x="615" y="643" width="1" height="46"/>
<rect x="623" y="643" width="1" height="39"/>
<rect x="631" y="643" width="1" height="31"/>
<rect x="639" y="643" width="1" height="27"/>
<rect x="647" y="643" width="1" height="23"/>
<rect x="655" y="643" width="1" height="19"/>
<rect x="663" y="643" width="1" height="18"/>
<rect x="671" y="643" width="1" height="18"/>
<rect x="679" y="643" width="1" height="9"/>
<rect x="687" y="643" width="1" height="1"/>
<rect x="695" y="635" width="1" height="8"/>
<rect x="703" y="630" width="1" height="13"/>
<rect x="711" y="628" width="1" height="15"/>
<rect x="719" y="628" width="1" height="15"/>
<rect x="727" y="631" width="1" height="12"/>
<rect x="735" y="633" width="1" height="10"/>
<rect x="743" y="634" width="1" height="9"/>
<rect x="751" y="636" width="1" height="7"/>
<rect x="759" y="640" width="1" height="3"/>
<rect x="775" y="643" width="1" height="1"/>
<rect x="791" y="643" width="1" height="1"/>
<rect x="799" y="643" width="1" height="3"/>
<rect x="807" y="643" width="1" height="3"/>
<rect x="823" y="640" width="1" height="3"/>
<rect x="831" y="633" width="1" height="10"/>
<rect x="839" y="627" width="1" height="16"/>
<rect x="847" y="623" width="1" height="20"/>
<rect x="855" y="618" width="1" height="25"/>
<rect x="863" y="614" width="1" height="29"/>
<rect x="871" y="608" width="1" height="35"/>
<rect x="879" y="602" width="1" height="41"/>
<rect x="887" y="598" width="1" height="45"/>
<rect x="895" y="594" width="1" height="49"/>
<rect x="903" y="592" width="1" height="51"/>
<rect x="911" y="592" width="1" height="51"/>
<rect x="919" y="595" width="1" height="48"/>
<rect x="927" y="598" width="1" height="45"/>
<rect x="935" y="600" width="1" height="43"/>
<rect x="943" y="601" width="1" height="42"/>
<rect x="951" y="603" width="1" height="40"/>
<rect x="959" y="604" width="1" height="39"/>
<rect x="967" y="602" width="1" height="41"/>
<rect x="975" y="601" width="1" height="42"/>
<rect x="983" y="600" width="1" height="43"/>
<rect x="991" y="598" width="1" height="45"/>
<rect x="999" y="598" width="1" height="45"/>
<rect x="1007" y="598" width="1" height="45"/>
<rect x="1015" y="600" width="1" height="43"/>
<rect x="1023" y="602" width="1" height="41"/>
<rect x="1031" y="603" width="1" height="40"/>
<rect x="1039" y="605" width="1" height="38"/>
<rect x="1047" y="608" width="1" height="35"/>
<rect x="1055" y="613" width="1" height="30"/>
<rect x="1063" y="619" width="1" height="24"/>
<rect x="1071" y="632" width="1" height="11"/>
<rect x="1079" y="640" width="1" height="3"/>
<rect x="1087" y="643" width="1" height="4"/>
<rect x="1095" y="643" width="1" height="11"/>
<rect x="1103" y="643" width="1" height="15"/>
<rect x="1111" y="643" width="1" height="14"/>
<rect x="1119" y="643" width="1" height="12"/>
<rect x="1127" y="643" width="1" height="11"/>
<rect x="1135" y="643" width="1" height="13"/>
<rect x="1143" y="643" width="1" height="14"/>
<rect x="1151" y="643" width="1" height="19"/>
<rect x="1159" y="643" width="1" height="21"/>
<rect x="1167" y="643" width="1" height="21"/>
<rect x="1175" y="643" width="1" height="19"/>
<rect x="1183" y="643" width="1" height="16"/>
<rect x="1191" y="643" width="1" height="14"/>
<rect x="1199" y="643" width="1" height="9"/>
<rect x="1207" y="643" width="1" height="3"/>
<rect x="1215" y="641" width="1" height="2"/>
<rect x="1223" y="636" width="1" height="7"/>
<rect x="1231" y="636" width="1" height="7"/>
<rect x="1239" y="636" width="1" height="7"/>
<rect x="1247" y="635" width="1" height="8"/>
<rect x="1255" y="636" width="1" height="7"/>
<rect x="1263" y="641" width="1" height="2"/>
<rect x="1279" y="643" width="1" height="1"/>
<rect x="1287" y="643" width="1" height="5"/>
<rect x="1295" y="643" width="1" height="6"/>
<rect x="1303" y="643" width="1" height="6"/>
<rect x="1311" y="643" width="1" height="6"/>
<rect x="1319" y="643" width="1" height="5"/>
<rect x="1327" y="643" width="1" height="5"/>
<rect x="1335" y="643" width="1" height="4"/>
<rect x="1343" y="643" width="1" height="5"/>
<rect x="1351" y="643" width="1" height="3"/>
<rect x="1359" y="643" width="1" height="4"/>
<rect x="1367" y="643" width="1" height="3"/>
<rect x="1375" y="643" width="1" height="2"/>
<rect x="1383" y="640" width="1" height="3"/>
</g>
<polyline points="3.0,660.0 7.5,663.8 15.5,665.0 23.5,669.5 31.5,670.8 39.5,671.2 47.5,672.0 55.5,671.2 63.5,670.5 71.5,669.2 79.5,668.2 87.5,667.0 95.5,665.8 103.5,664.5 111.5,663.0 119.5,660.5 127.5,657.0 135.5,653.8 143.5,650.0 151.5,647.5 159.5,644.5 167.5,641.8 175.5,638.8 183.5,637.5 191.5,636.2 199.5,635.2 207.5,634.5 215.5,634.5 223.5,634.5 231.5,633.5 239.5,633.5 247.5,634.5 255.5,634.5 263.5,636.2 271.5,638.8 279.5,641.2 287.5,645.0 295.5,648.2 303.5,651.2 311.5,654.5 319.5,656.0 327.5,658.0 335.5,659.2 343.5,660.5 351.5,661.2 359.5,661.5 367.5,661.8 375.5,662.0 383.5,663.2 391.5,666.2 399.5,670.0 407.5,674.2 415.5,678.2 423.5,681.2 431.5,684.2 439.5,688.2 447.5,693.0 455.5,698.0 463.5,703.8 471.5,709.5 479.5,715.0 487.5,720.8 495.5,725.8 503.5,730.0 511.5,733.2 519.5,735.2 527.5,735.0 535.5,734.2 543.5,734.2 551.5,733.5 559.5,733.0 567.5,731.5 575.5,730.8 583.5,730.5 591.5,729.2 599.5,727.0 607.5,723.2 615.5,717.5 623.5,711.2 631.5,704.5 639.5,698.0 647.5,691.2 655.5,684.2 663.5,678.8 671.5,675.0 679.5,670.0 687.5,664.2 695.5,660.0 703.5,653.2 711.5,648.8 719.5,645.0 727.5,642.0 735.5,638.0 743.5,634.5 751.5,632.8 759.5,632.5 767.5,633.2 775.5,634.5 783.5,636.2 791.5,639.0 799.5,640.2 807.5,641.2 815.5,643.0 823.5,643.0 831.5,642.0 839.5,640.5 847.5,637.5 855.5,635.0 863.5,632.0 871.5,627.5 879.5,622.0 887.5,617.5 895.5,612.5 903.5,608.0 911.5,603.2 919.5,601.2 927.5,598.2 935.5,597.0 943.5,596.5 951.5,596.5 959.5,597.0 967.5,598.5 975.5,599.2 983.5,599.5 991.5,600.5 999.5,600.2 1007.5,599.5 1015.5,599.5 1023.5,599.5 1031.5,599.5 1039.5,599.5 1047.5,600.0 1055.5,602.5 1063.5,604.2 1071.5,608.8 1079.5,613.0 1087.5,618.8 1095.5,624.5 1103.5,630.0 1111.5,635.8 1119.5,641.2 1127.5,645.8 1135.5,650.5 1143.5,653.0 1151.5,656.2 1159.5,658.2 1167.5,659.5 1175.5,659.5 1183.5,659.5 1191.5,660.0 1199.5,659.2 1207.5,658.2 1215.5,656.5 1223.5,652.5 1231.5,650.0 1239.5,647.5 1247.5,643.8 1255.5,641.2 1263.5,639.5 1271.5,638.2 1279.5,638.2 1287.5,639.0 1295.5,640.0 1303.5,641.2 1311.5,642.5 1319.5,645.0 1327.5,646.8 1335.5,647.2 1343.5,647.5 1351.5,648.2 1359.5,648.2 1367.5,647.8 1375.5,647.0 1383.5,645.0" fill="none" stroke="#ff0000" stroke-width="1" stroke-linejoin="round" stroke-dasharray="3 3" shape-rendering="crispEdges"/>
</g>
<line x1="1274.0" y1="641.5" x2="1376.0" y2="640.6" stroke="#ff0000" stroke-width="3.3" stroke-linecap="round"/>
<polygon points="1384.0,640.5 1374.0,645.4 1377.0,640.6 1374.0,635.8" fill="#ff0000"/>
<g clip-path="url(#cr)">
<line x1="0" y1="790.5" x2="1650" y2="790.5" stroke="#c0c0c0" stroke-width="1" stroke-dasharray="3 3" shape-rendering="crispEdges"/>
<line x1="0" y1="841.5" x2="1650" y2="841.5" stroke="#c0c0c0" stroke-width="1" stroke-dasharray="3 3" shape-rendering="crispEdges"/>
<line x1="0" y1="902.5" x2="1650" y2="902.5" stroke="#c0c0c0" stroke-width="1" stroke-dasharray="3 3" shape-rendering="crispEdges"/>
<polyline points="-0.5,853.8 7.5,852.0 15.5,839.2 23.5,850.0 31.5,844.5 39.5,850.8 47.5,855.0 55.5,860.0 63.5,851.2 71.5,846.2 79.5,844.2 87.5,845.2 95.5,839.5 103.5,837.2 111.5,839.0 119.5,829.2 127.5,830.2 135.5,828.2 143.5,832.0 151.5,831.2 159.5,839.2 167.5,838.0 175.5,833.5 183.5,832.0 191.5,829.2 199.5,831.0 207.5,836.0 215.5,836.2 223.5,835.0 231.5,833.0 239.5,841.2 247.5,846.2 255.5,856.2 263.5,874.0 271.5,868.2 279.5,872.2 287.5,868.2 295.5,877.0 303.5,843.2 311.5,842.0 319.5,843.8 327.5,848.2 335.5,854.5 343.5,861.2 351.5,857.5 359.5,862.2 367.5,862.5 375.5,870.0 383.5,873.2 391.5,891.2 399.5,882.0 407.5,884.5 415.5,860.2 423.5,860.2 431.5,860.2 439.5,880.8 447.5,882.5 455.5,894.2 463.5,888.2 471.5,885.2 479.5,884.2 487.5,880.0 495.5,875.8 503.5,864.2 511.5,861.0 519.5,864.2 527.5,868.0 535.5,882.0 543.5,888.2 551.5,874.2 559.5,861.0 567.5,862.5 575.5,862.2 583.5,858.0 591.5,852.0 599.5,846.2 607.5,846.0 615.5,845.0 623.5,841.8 631.5,840.0 639.5,843.2 647.5,842.0 655.5,844.2 663.5,846.2 671.5,851.2 679.5,825.0 687.5,824.0 695.5,815.2 703.5,827.0 711.5,831.0 719.5,833.2 727.5,844.2 735.5,842.2 743.5,842.2 751.5,840.0 759.5,850.0 767.5,853.2 775.5,845.2 783.5,840.2 791.5,846.2 799.5,846.2 807.5,843.0 815.5,838.2 823.5,824.2 831.5,818.2 839.5,816.2 847.5,816.2 855.5,812.2 863.5,810.2 871.5,805.5 879.5,800.5 887.5,800.2 895.5,798.0 903.5,799.2 911.5,806.0 919.5,818.0 927.5,824.2 935.5,820.2 943.5,816.2 951.5,816.2 959.5,814.2 967.5,806.5 975.5,803.0 983.5,801.2 991.5,801.2 999.5,800.2 1007.5,799.2 1015.5,812.2 1023.5,813.5 1031.5,810.0 1039.5,815.5 1047.5,820.0 1055.5,839.2 1063.5,844.2 1071.5,876.8 1079.5,866.2 1087.5,870.2 1095.5,872.5 1103.5,865.2 1111.5,844.2 1119.5,842.2 1127.5,846.2 1135.5,853.0 1143.5,855.2 1151.5,867.2 1159.5,860.2 1167.5,852.2 1175.5,849.2 1183.5,840.2 1191.5,841.5 1199.5,834.5 1207.5,824.2 1215.5,821.2 1223.5,820.2 1231.5,836.2 1239.5,838.2 1247.5,833.2 1255.5,841.2 1263.5,853.0 1271.5,851.2 1279.5,846.2 1287.5,856.2 1295.5,848.2 1303.5,846.5 1311.5,845.0 1319.5,844.5 1327.5,845.0 1335.5,840.5 1343.5,844.2 1351.5,840.0 1359.5,852.5 1367.5,841.2 1375.5,836.2 1383.5,830.0" fill="none" stroke="#1e90ff" stroke-width="1" stroke-linejoin="round" shape-rendering="crispEdges"/>
</g>
<line x1="1286.0" y1="849.5" x2="1381.1" y2="835.2" stroke="#ff0000" stroke-width="3.3" stroke-linecap="round"/>
<polygon points="1389.0,834.0 1379.8,840.2 1382.1,835.0 1378.4,830.7" fill="#ff0000"/>
<g font-size="9.3" fill="#000">
<g shape-rendering="crispEdges">
<rect x="1651" y="49" width="3" height="1" fill="#000"/>
<rect x="1651" y="82" width="3" height="1" fill="#000"/>
<rect x="1651" y="115" width="3" height="1" fill="#000"/>
<rect x="1651" y="148" width="3" height="1" fill="#000"/>
<rect x="1651" y="181" width="3" height="1" fill="#000"/>
<rect x="1651" y="214" width="3" height="1" fill="#000"/>
<rect x="1651" y="247" width="3" height="1" fill="#000"/>
<rect x="1651" y="280" width="3" height="1" fill="#000"/>
<rect x="1651" y="313" width="3" height="1" fill="#000"/>
<rect x="1651" y="346" width="3" height="1" fill="#000"/>
<rect x="1651" y="379" width="3" height="1" fill="#000"/>
<rect x="1651" y="412" width="3" height="1" fill="#000"/>
<rect x="1651" y="445" width="3" height="1" fill="#000"/>
<rect x="1651" y="478" width="3" height="1" fill="#000"/>
<rect x="1651" y="511" width="3" height="1" fill="#000"/>
<rect x="1651" y="544" width="3" height="1" fill="#000"/>
<rect x="1651" y="577" width="3" height="1" fill="#000"/>
</g>
<text x="1656" y="52.6">30251.0</text>
<text x="1656" y="85.6">30041.0</text>
<text x="1656" y="118.6">29837.0</text>
<text x="1656" y="151.6">29627.0</text>
<text x="1656" y="184.6">29417.0</text>
<text x="1656" y="217.6">29207.0</text>
<text x="1656" y="250.6">28997.0</text>
<text x="1656" y="283.6">28787.0</text>
<text x="1656" y="316.6">28577.0</text>
<text x="1656" y="349.6">28373.0</text>
<text x="1656" y="382.6">28163.0</text>
<text x="1656" y="415.6">27953.0</text>
<text x="1656" y="448.6">27743.0</text>
<text x="1656" y="481.6">27533.0</text>
<text x="1656" y="514.6">27323.0</text>
<text x="1656" y="547.6">27113.0</text>
<text x="1656" y="580.6">26909.0</text>
<text x="1654" y="592.9">277.81</text>
<text x="1654" y="646.9">0.00</text>
<rect x="1651" y="643" width="2" height="1" fill="#000" shape-rendering="crispEdges"/>
<text x="1654" y="748.4">-510.44</text>
<text x="1654" y="764.4">100</text>
<text x="1654" y="793.9">80</text>
<rect x="1651" y="790" width="2" height="1" fill="#000" shape-rendering="crispEdges"/>
<text x="1654" y="844.9">50</text>
<rect x="1651" y="841" width="2" height="1" fill="#000" shape-rendering="crispEdges"/>
<text x="1654" y="905.9">15</text>
<rect x="1651" y="902" width="2" height="1" fill="#000" shape-rendering="crispEdges"/>
<text x="1654" y="924.4">0</text>
</g>
<rect x="1652" y="185" width="41" height="11" fill="#ff0000" shape-rendering="crispEdges"/>
<text x="1656" y="193.9" font-size="9.3" fill="#fff">29351.8</text>
<rect x="1645.5" y="188.5" width="4" height="4" fill="#fff" stroke="#ff0000" stroke-width="1" shape-rendering="crispEdges"/>
<rect x="1652" y="208" width="41" height="11" fill="#ff0000" shape-rendering="crispEdges"/>
<text x="1656" y="216.9" font-size="9.3" fill="#fff">29206.3</text>
<rect x="1645.5" y="211.5" width="4" height="4" fill="#fff" stroke="#ff0000" stroke-width="1" shape-rendering="crispEdges"/>
<rect x="1652" y="237" width="41" height="11" fill="#000000" shape-rendering="crispEdges"/>
<text x="1656" y="245.9" font-size="9.3" fill="#fff">29030.0</text>
<rect x="1652" y="248" width="41" height="11" fill="#32cd32" shape-rendering="crispEdges"/>
<text x="1656" y="256.9" font-size="9.3" fill="#fff">28953.3</text>
<rect x="1652" y="270" width="41" height="11" fill="#0000ff" shape-rendering="crispEdges"/>
<text x="1656" y="278.9" font-size="9.3" fill="#fff">28814.1</text>
<rect x="1645.5" y="273.5" width="4" height="4" fill="#fff" stroke="#0000ff" stroke-width="1" shape-rendering="crispEdges"/>
<rect x="1652" y="290" width="41" height="11" fill="#0000ff" shape-rendering="crispEdges"/>
<text x="1656" y="298.9" font-size="9.3" fill="#fff">28687.6</text>
<polygon points="1395,28 1405,28 1400,33" fill="#b4b4b4"/>
<g font-size="9.3" fill="#000">
<rect x="0" y="37" width="1.5" height="1.5" fill="#000"/>
<text x="5.5" y="38.8" textLength="197.5" lengthAdjust="spacingAndGlyphs" xml:space="preserve">JPN225-,H4  28927.5 29042.5 28885.0 29030.0</text>
<text x="-3.5" y="595" textLength="114.5" lengthAdjust="spacingAndGlyphs">MACD(12,26,9) 6.90 -15.79</text>
<text x="-3.5" y="767" textLength="66" lengthAdjust="spacingAndGlyphs">RSI(14) 57.3231</text>
<g shape-rendering="crispEdges">
<rect x="55" y="929" width="1" height="3" fill="#000"/>
<rect x="119" y="929" width="1" height="3" fill="#000"/>
<rect x="183" y="929" width="1" height="3" fill="#000"/>
<rect x="247" y="929" width="1" height="3" fill="#000"/>
<rect x="311" y="929" width="1" height="3" fill="#000"/>
<rect x="375" y="929" width="1" height="3" fill="#000"/>
<rect x="439" y="929" width="1" height="3" fill="#000"/>
<rect x="503" y="929" width="1" height="3" fill="#000"/>
<rect x="567" y="929" width="1" height="3" fill="#000"/>
<rect x="631" y="929" width="1" height="3" fill="#000"/>
<rect x="695" y="929" width="1" height="3" fill="#000"/>
<rect x="759" y="929" width="1" height="3" fill="#000"/>
<rect x="823" y="929" width="1" height="3" fill="#000"/>
<rect x="887" y="929" width="1" height="3" fill="#000"/>
<rect x="951" y="929" width="1" height="3" fill="#000"/>
<rect x="1015" y="929" width="1" height="3" fill="#000"/>
<rect x="1079" y="929" width="1" height="3" fill="#000"/>
<rect x="1143" y="929" width="1" height="3" fill="#000"/>
<rect x="1207" y="929" width="1" height="3" fill="#000"/>
<rect x="1271" y="929" width="1" height="3" fill="#000"/>
<rect x="1335" y="929" width="1" height="3" fill="#000"/>
</g>
<text x="-9.5" y="941">21 Sep 2021</text>
<text x="54.5" y="941">22 Sep 00:00</text>
<text x="118.5" y="941">23 Sep 10:55</text>
<text x="182.5" y="941">24 Sep 18:55</text>
<text x="246.5" y="941">28 Sep 00:00</text>
<text x="310.5" y="941">29 Sep 10:55</text>
<text x="374.5" y="941">30 Sep 18:55</text>
<text x="438.5" y="941">4 Oct 00:00</text>
<text x="502.5" y="941">5 Oct 10:55</text>
<text x="566.5" y="941">6 Oct 18:55</text>
<text x="630.5" y="941">8 Oct 00:00</text>
<text x="694.5" y="941">11 Oct 10:55</text>
<text x="758.5" y="941">12 Oct 18:55</text>
<text x="822.5" y="941">14 Oct 00:00</text>
<text x="886.5" y="941">15 Oct 10:55</text>
<text x="950.5" y="941">18 Oct 18:55</text>
<text x="1014.5" y="941">20 Oct 00:00</text>
<text x="1078.5" y="941">21 Oct 10:55</text>
<text x="1142.5" y="941">22 Oct 18:55</text>
<text x="1206.5" y="941">26 Oct 00:00</text>
<text x="1270.5" y="941">27 Oct 10:55</text>
<text x="1334.5" y="941">28 Oct 18:55</text>
</g>
<g>
<rect x="0" y="47" width="215" height="57" fill="#fff"/>
<rect x="0" y="47" width="46" height="25" fill="url(#gsell)"/>
<rect x="161" y="47" width="52" height="25" fill="url(#gsell)"/>
<rect x="0" y="71" width="102.500" height="33" fill="url(#gbig)"/>
<rect x="105" y="71" width="108" height="33" fill="url(#gbig)"/>
<rect x="0" y="70.5" width="42" height="1" fill="#b81416"/>
<rect x="165" y="70.5" width="44" height="1" fill="#b81416"/>
<rect x="48.5" y="47.5" width="110" height="21" fill="#fff" stroke="#abadb3" stroke-width="1"/>
<rect x="49.5" y="48.5" width="19" height="19" fill="url(#gbtn)" stroke="#c4c4c4" stroke-width="1"/>
<rect x="138.500" y="48.5" width="19" height="19" fill="url(#gbtn)" stroke="#c4c4c4" stroke-width="1"/>
<polygon points="56,56 61,56 58.5,59" fill="#4a5ab0"/>
<polygon points="145.5,59 150.5,59 148,56" fill="#4a5ab0"/>
<text x="133.5" y="62.3" font-size="12" fill="#000" text-anchor="end">1.00</text>
<text x="6.500" y="63" font-size="12.3" fill="#fff" textLength="25.5" lengthAdjust="spacingAndGlyphs">SELL</text>
<text x="174.5" y="63" font-size="12.3" fill="#fff" textLength="23.5" lengthAdjust="spacingAndGlyphs">BUY</text>
<text x="10.4" y="98.6" font-size="11.2" font-weight="bold" fill="#fff" textLength="34.5" lengthAdjust="spacingAndGlyphs">29028</text>
<text x="120.6" y="98.6" font-size="11.2" font-weight="bold" fill="#fff" textLength="34.5" lengthAdjust="spacingAndGlyphs">29051</text>
<rect x="50" y="95.5" width="3" height="3" fill="#fff"/><rect x="160.8" y="95.5" width="3" height="3" fill="#fff"/>
<text x="56" y="98.6" font-size="32.500" fill="#fff" textLength="16" lengthAdjust="spacingAndGlyphs">5</text>
<text x="167" y="98.6" font-size="32.500" fill="#fff" textLength="16" lengthAdjust="spacingAndGlyphs">5</text>
</g>
<g>
<rect x="0" y="0" width="1697" height="25" fill="#f0f0f0"/>
<rect x="0" y="22" width="1697" height="1" fill="#e2e2e2"/><rect x="0" y="23" width="1697" height="1" fill="#bcbcbc"/><rect x="0" y="24" width="1697" height="1" fill="#7c7c7c"/>
<rect x="0" y="25" width="1697" height="2" fill="#fff"/>
<rect x="1696" y="25" width="1" height="915" fill="#c8c8c8"/>
<g id="tb">
<!-- left partial magnifier handle -->
<path d="M-1 14.5 L3.2 19.8" stroke="#c99a1e" stroke-width="3" stroke-linecap="round"/>
<!-- separators -->
<g shape-rendering="crispEdges" fill="#a0a0a0">
<rect x="11" y="0" width="1" height="21"/>
<rect x="247" y="0" width="1" height="23"/>
<rect x="285" y="0" width="1" height="21"/>
<rect x="342" y="0" width="1" height="21"/>
<rect x="432" y="0" width="1" height="21"/>
<rect x="437" y="1" width="1" height="21"/>
<rect x="465" y="0" width="1" height="21"/>
<rect x="494" y="0" width="1" height="21"/>
<rect x="615" y="0" width="1" height="23"/>
<rect x="625" y="0" width="1" height="21"/>
<rect x="682" y="0" width="1" height="21"/>
<rect x="921" y="0" width="1" height="23"/>
<rect x="1071" y="0" width="1" height="21"/>
<rect x="1182" y="0" width="1" height="23"/>
</g>
<!-- grippers -->
<g stroke="#b4b4b4" stroke-width="4" stroke-dasharray="1 1" shape-rendering="crispEdges">
<line x1="252.5" y1="1" x2="252.5" y2="21"/>
<line x1="620.5" y1="1" x2="620.5" y2="21"/>
<line x1="926.5" y1="1" x2="926.5" y2="21"/>
</g>
<!-- highlighted (checked) buttons -->
<g fill="#f8f8f8">
<rect x="287" y="0" width="23" height="22"/>
<rect x="438" y="0" width="23" height="22"/>
<rect x="467" y="0" width="23" height="22"/>
<rect x="626.500" y="0" width="23.5" height="22"/>
<rect x="1072" y="0" width="24" height="22"/>
</g>
<!-- new order icon -->
<defs><radialGradient id="gplus" cx="0.45" cy="0.4" r="0.7"><stop offset="0" stop-color="#5cff6c"/><stop offset="0.6" stop-color="#14d828"/><stop offset="1" stop-color="#0cae1c"/></radialGradient></defs>
<path d="M22 3.500 H29.800 L32.700 6.400 V16.600 H22 Z" fill="#fff" stroke="#6c6c6c" stroke-width="1.100"/>
<path d="M29.800 3.500 V6.400 H32.700" fill="#e8e8e8" stroke="#8a8a8a" stroke-width="0.700"/>
<path d="M24 6.500H26.500 M24 9.500H29.500 M24 11.500H27.500" stroke="#8c8c8c" stroke-width="1"/>
<path d="M29 9.600 h4 v3.700 h3.800 v4 h-3.800 v3.600 h-4 v-3.600 h-3.800 v-4 h3.800 z" fill="url(#gplus)" stroke="#0c8a18" stroke-width="0.800"/>
<text x="40" y="15.200" font-size="12" fill="#000" textLength="36" lengthAdjust="spacingAndGlyphs">新订单</text>
<!-- gold book -->
<defs><linearGradient id="ggold" x1="0" y1="0" x2="1" y2="1"><stop offset="0" stop-color="#f7df6a"/><stop offset="0.5" stop-color="#e8b820"/><stop offset="1" stop-color="#c8900c"/></linearGradient>
<linearGradient id="gcloud" x1="0" y1="0" x2="0" y2="1"><stop offset="0" stop-color="#ffffff"/><stop offset="1" stop-color="#c4d2ec"/></linearGradient>
<linearGradient id="gcube" x1="0" y1="0" x2="1" y2="0"><stop offset="0" stop-color="#5fb4ff"/><stop offset="1" stop-color="#1878e0"/></linearGradient>
<linearGradient id="ggreen" x1="0" y1="0" x2="1" y2="1"><stop offset="0" stop-color="#e4f0e0"/><stop offset="1" stop-color="#6aa868"/></linearGradient>
<linearGradient id="gfun" x1="0" y1="0" x2="1" y2="1"><stop offset="0" stop-color="#fff2a0"/><stop offset="1" stop-color="#e8b818"/></linearGradient></defs>
<path d="M88.300 13.200 L93.300 4.400 L103.800 12 L96 18.900 Z" fill="#9a6a10"/>
<path d="M88.600 12.400 L93.300 4.300 L103.500 11.300 L96.200 17.300 Z" fill="url(#ggold)"/>
<path d="M89 14 L96 18.700 L103.600 12.200" fill="none" stroke="#b8841a" stroke-width="1.200"/>
<path d="M92.600 5.300 C91.500 5.500 91.500 6.800 92.400 7" stroke="#c89a20" stroke-width="0.900" fill="none"/>
<!-- cloud icon -->
<path d="M118.300 4 L121.500 3.200 L128.800 3.600 L128.800 11.500 L121.500 12.300 L118.300 11 Z" fill="url(#gcube)"/>
<path d="M118.300 4 L121.500 5.200 L121.500 12.300 L118.300 11 Z" fill="#9ad4ff"/>
<path d="M121.500 5.200 L128.800 4.600" stroke="#c8e8ff" stroke-width="0.700"/>
<path d="M123.300 7.600 L127.300 7 L127.300 8.400 L123.300 9 Z" fill="#e8f4ff"/>
<path d="M118.800 18.500 a3.200 3.200 0 0 1 -0.300 -6.300 a3.600 3.400 0 0 1 6.800 -1 a3.300 3.300 0 0 1 5.300 2.300 a2.600 2.600 0 0 1 -1.200 5 z" fill="url(#gcloud)" stroke="#6c88c0" stroke-width="0.900"/>
<!-- signal icon -->
<path d="M152.200 3.200 A7.800 7.800 0 0 1 152.200 18.800 Z" fill="url(#ggreen)" opacity="0.900"/>
<path d="M152.200 3.300 A7.700 7.700 0 0 0 152.200 18.700" fill="none" stroke="#a8c0ec" stroke-width="1"/>
<path d="M152.200 5.400 A5.600 5.600 0 0 0 152.200 16.600" fill="none" stroke="#5c88e0" stroke-width="1.100"/>
<path d="M152.200 7.600 A3.400 3.400 0 0 0 152.200 14.400" fill="none" stroke="#3c6cd8" stroke-width="1.100"/>
<path d="M152.200 5.400 A5.600 5.600 0 0 1 152.200 16.600 M152.200 7.600 A3.400 3.400 0 0 1 152.200 14.400" fill="none" stroke="#d8ecd4" stroke-width="0.900"/>
<circle cx="152.100" cy="10.800" r="1.900" fill="#2858d0"/>
<path d="M152.800 11.300 V18.700" stroke="#18a418" stroke-width="1.500"/>
<!-- autotrading icon -->
<path d="M172 9.500 L186 9.500 L181.800 18.700 L178.300 18.700 Z" fill="url(#gfun)" stroke="#c89c18" stroke-width="0.600"/>
<ellipse cx="179" cy="7.600" rx="7.800" ry="2.700" fill="#4c9cdc"/>
<ellipse cx="179" cy="7" rx="7.600" ry="2.300" fill="#6cb4ec"/>
<path d="M174.800 6.800 C174.800 1.800 182.600 1.800 182.600 6.800 Z" fill="#7cc4f4"/>
<path d="M174.800 6.800 C176.500 8 180.800 8 182.600 6.800" fill="none" stroke="#3c84c8" stroke-width="0.800"/>
<circle cx="183.400" cy="14.700" r="4" fill="#d82818"/>
<rect x="182" y="13.400" width="2.800" height="2.800" fill="#fff"/>
<text x="192.500" y="15.200" font-size="12" fill="#000" textLength="48" lengthAdjust="spacingAndGlyphs">自动交易</text>
<!-- chart type icons: axes helper -->
<g stroke="#585858" stroke-width="1.100" fill="none">
<path d="M265.500 5 V18.500 M263 16.500 H276.500 M264 6.500 L265.500 5 L267 6.500 M275 15 L276.500 16.500 L275 18"/>
<path d="M293.500 5 V18.500 M291 16.500 H304.500 M292 6.500 L293.500 5 L295 6.500 M303 15 L304.500 16.500 L303 18"/>
<path d="M321.500 5 V18.500 M319 16.500 H332.500 M320 6.500 L321.500 5 L323 6.500 M331 15 L332.500 16.500 L331 18"/>
<path d="M445.500 5 V18.500 M443 16.500 H456.500 M444 6.500 L445.500 5 L447 6.500 M455 15 L456.500 16.500 L455 18"/>
<path d="M473.500 5 V18.500 M471 16.500 H484.500 M472 6.500 L473.500 5 L475 6.500 M483 15 L484.500 16.500 L483 18"/>
</g>
<path d="M271.500 6.500 V14 M271.500 7 H273.500 M269.500 13.500 H271.500" stroke="#1c9a2c" stroke-width="1.400" fill="none"/>
<path d="M299.500 3 V15" stroke="#1c7a24" stroke-width="1"/>
<rect x="297.500" y="5.500" width="4" height="7.500" fill="#2ccc3c" stroke="#158a22" stroke-width="1"/>
<path d="M320.500 13.500 C323 9.500 325.500 7.500 327.500 8.500 C329 9.300 330.500 11 331.500 12" stroke="#1c8a2c" stroke-width="1.200" fill="none"/>
<!-- zoom in / out -->
<path d="M361.200 13.200 L366 17.500" stroke="#8a6a10" stroke-width="3.600" stroke-linecap="round"/>
<path d="M361.200 13.200 L366 17.500" stroke="#e4c030" stroke-width="2.200" stroke-linecap="round"/>
<circle cx="357" cy="8.800" r="5.700" fill="#d4f0fc" stroke="#2c7cd0" stroke-width="1.300"/>
<path d="M353.500 8.800 H360.500 M357 5.300 V12.300" stroke="#3c88c0" stroke-width="1.800"/>
<path d="M389.300 13.200 L394.100 17.500" stroke="#8a6a10" stroke-width="3.600" stroke-linecap="round"/>
<path d="M389.300 13.200 L394.100 17.500" stroke="#e4c030" stroke-width="2.200" stroke-linecap="round"/>
<circle cx="385.100" cy="8.800" r="5.700" fill="#d4f0fc" stroke="#2c7cd0" stroke-width="1.300"/>
<path d="M381.600 8.800 H388.600" stroke="#3c88c0" stroke-width="1.800"/>
<!-- tile windows -->
<g shape-rendering="crispEdges">
<rect x="407" y="3" width="8" height="8" fill="#3a9a1a"/><rect x="415" y="3" width="8" height="8" fill="#1c4cc8"/>
<rect x="407" y="11" width="8" height="8" fill="#1c4cc8"/><rect x="415" y="11" width="8" height="8" fill="#3a9a1a"/>
<rect x="408" y="6" width="6" height="4" fill="#f4faf0"/><rect x="416" y="6" width="6" height="4" fill="#eef2ff"/>
<rect x="408" y="14" width="6" height="4" fill="#eef2ff"/><rect x="416" y="14" width="6" height="4" fill="#f4faf0"/>
<rect x="409" y="7" width="4" height="1" fill="#9cd080"/><rect x="417" y="7" width="4" height="1" fill="#90a8f0"/>
<rect x="409" y="15" width="4" height="1" fill="#90a8f0"/><rect x="417" y="15" width="4" height="1" fill="#9cd080"/>
<rect x="410" y="9" width="2" height="1" fill="#3a9a1a"/><rect x="418" y="9" width="2" height="1" fill="#1c4cc8"/>
<rect x="410" y="17" width="2" height="1" fill="#1c4cc8"/><rect x="418" y="17" width="2" height="1" fill="#3a9a1a"/>
<rect x="408" y="4" width="1" height="1" fill="#d0f0c0"/><rect x="416" y="4" width="1" height="1" fill="#c0d0ff"/>
<rect x="408" y="12" width="1" height="1" fill="#c0d0ff"/><rect x="416" y="12" width="1" height="1" fill="#d0f0c0"/>
</g>
<!-- autoscroll / shift -->
<path d="M450.500 7 L454.500 10.500 L450.500 14 Z" fill="#7ee07e" stroke="#1c9a2c" stroke-width="1"/>
<path d="M479.500 5 V15.500" stroke="#2060c0" stroke-width="1.300"/>
<path d="M485 10.500 H481 M483 8.500 L481 10.500 L483 12.500" stroke="#c03010" stroke-width="1.200" fill="none"/>
<!-- indicators icon -->
<path d="M504.700 3.700 H511 L515.800 6.500 V16.500 H504.700 Z" fill="#fff" stroke="#7c7c7c" stroke-width="1.100"/>
<path d="M509.500 6.200 C507.500 6.200 508.500 9.800 507 10 C508.500 10.200 507.500 13.800 509.500 13.800" stroke="#505050" stroke-width="0.900" fill="none"/>
<path d="M512.200 9.300 h3.900 v3.700 h3.700 v4 h-3.700 v3.700 h-3.900 v-3.700 h-3.700 v-4 h3.700 z" fill="url(#gplus)" stroke="#0c8a18" stroke-width="0.800"/>
<polygon points="525.800,9.800 531.600,9.800 528.700,13" fill="#000"/>
<!-- clock -->
<circle cx="550.200" cy="11" r="7.800" fill="#1c64cc"/>
<circle cx="550.200" cy="10.600" r="7" fill="none" stroke="#4c98f0" stroke-width="1"/>
<circle cx="550.200" cy="11" r="5.400" fill="#f4f8fc"/>
<path d="M550 7.200 V11.300 H553" stroke="#303030" stroke-width="1.100" fill="none"/>
<path d="M550.200 6.200 v0.800 M550.200 15 v0.800 M545.400 11 h0.800 M554.200 11 h0.800" stroke="#8090a8" stroke-width="0.800"/>
<polygon points="565,9.800 570.800,9.800 567.900,13" fill="#000"/>
<!-- template -->
<rect x="581.500" y="4.500" width="15" height="13" fill="#fff" stroke="#3c78c8" stroke-width="1"/>
<rect x="581" y="4" width="16" height="3" fill="#5c9ce8"/>
<rect x="582" y="12" width="14" height="1" fill="#3c78c8" shape-rendering="crispEdges"/>
<path d="M583.500 10.500 L586 9.600 L587.500 8.600 L589.500 9.600 L591.500 9.300 L594.500 8.500" stroke="#a02010" stroke-width="1.200" fill="none"/>
<path d="M583.500 15.500 L586 14.800 L587.500 15.300 L590 13.800 L592 14 L594.500 15.800" stroke="#1c9a2c" stroke-width="1.200" fill="none"/>
<polygon points="603.800,9.800 609.600,9.800 606.700,13" fill="#000"/>
<!-- cursor -->
<path d="M633.500 4 L633.500 15.500 L636.300 13.200 L638.300 17.800 L640 17 L638 12.600 L641.500 12.300 Z" fill="#505050"/>
<!-- crosshair -->
<path d="M665.500 4 V9.500 M665.500 12.500 V18.500 M658 11.500 H663.500 M667.500 11.500 H673" stroke="#505050" stroke-width="1.100"/>
<!-- vertical, horizontal, trend lines -->
<path d="M699.500 5 V17.500" stroke="#505050" stroke-width="1.200"/>
<path d="M722.500 11.500 H734" stroke="#505050" stroke-width="1.200"/>
<path d="M750 18 L762 6" stroke="#505050" stroke-width="1.300"/>
<!-- channel E -->
<g stroke="#505050" stroke-width="1.100" fill="none">
<path d="M776.500 15 L789.500 6 M777.500 18 L790.500 9.500 M779 17 L782 8.500 M782.500 16 L785.500 6 M786 14 L789 3.500"/>
</g>
<text x="787" y="20" font-size="6.500" font-weight="bold" fill="#404040">E</text>
<!-- fib F -->
<g stroke="#606060" stroke-width="1" stroke-dasharray="1 1" shape-rendering="crispEdges">
<path d="M805 4.500 H818 M805 7 H818 M805 9.500 H818 M805 12 H818 M805 15.500 H814"/>
</g>
<text x="814.500" y="20" font-size="6.500" font-weight="bold" fill="#404040">F</text>
<!-- A -->
<text x="835.300" y="16" font-size="12" font-weight="bold" fill="#585858">A</text>
<!-- T label -->
<rect x="861.500" y="4.500" width="12" height="13" fill="none" stroke="#606060" stroke-width="1" stroke-dasharray="1 1" shape-rendering="crispEdges"/>
<text x="863.700" y="16" font-size="11.500" font-weight="bold" fill="#585858">T</text>
<!-- arrows icon -->
<path d="M889.500 6.500 L892.500 3.500 L895.500 6.500 L892.500 9.500 Z M897 15 L900 12 L903 15 L900 18 Z" fill="#505050"/>
<path d="M891 11 L894 14.500 L899 8" stroke="#505050" stroke-width="1.300" fill="none"/>
<polygon points="910,9.800 915.800,9.800 912.900,13" fill="#000"/>
<!-- timeframes -->
<g font-size="9.600" fill="#3a3a3a">
<text x="936.500" y="14.600">M1</text>
<text x="964.600" y="14.600">M5</text>
<text x="990.600" y="14.600">M15</text>
<text x="1018.700" y="14.600">M30</text>
<text x="1049.600" y="14.600">H1</text>
<text x="1076.700" y="14.600">H4</text>
<text x="1105.500" y="14.600">D1</text>
<text x="1133" y="14.600">W1</text>
<text x="1159.600" y="14.600">MN</text>
</g>
<!-- search + chat -->
<circle cx="1652.500" cy="7.500" r="3.400" fill="#eaf2ff" stroke="#2c5cc8" stroke-width="1.600"/>
<path d="M1650 10.500 L1645 15.500" stroke="#2c5cc8" stroke-width="2.200" stroke-linecap="round"/>
<path d="M1669.500 12 a5 3.600 0 1 1 4 4.500 l-2.500 2.500 l0.300 -3 a4 3 0 0 1 -1.800 -4 z" fill="#f4f4f4" stroke="#a8a8a8" stroke-width="1"/>
<circle cx="1683" cy="8.300" r="8.300" fill="#e02c14"/>
<text x="1683" y="13" font-size="13" fill="#fff" text-anchor="middle">1</text>
</g>

</g>
</svg></body></html>
